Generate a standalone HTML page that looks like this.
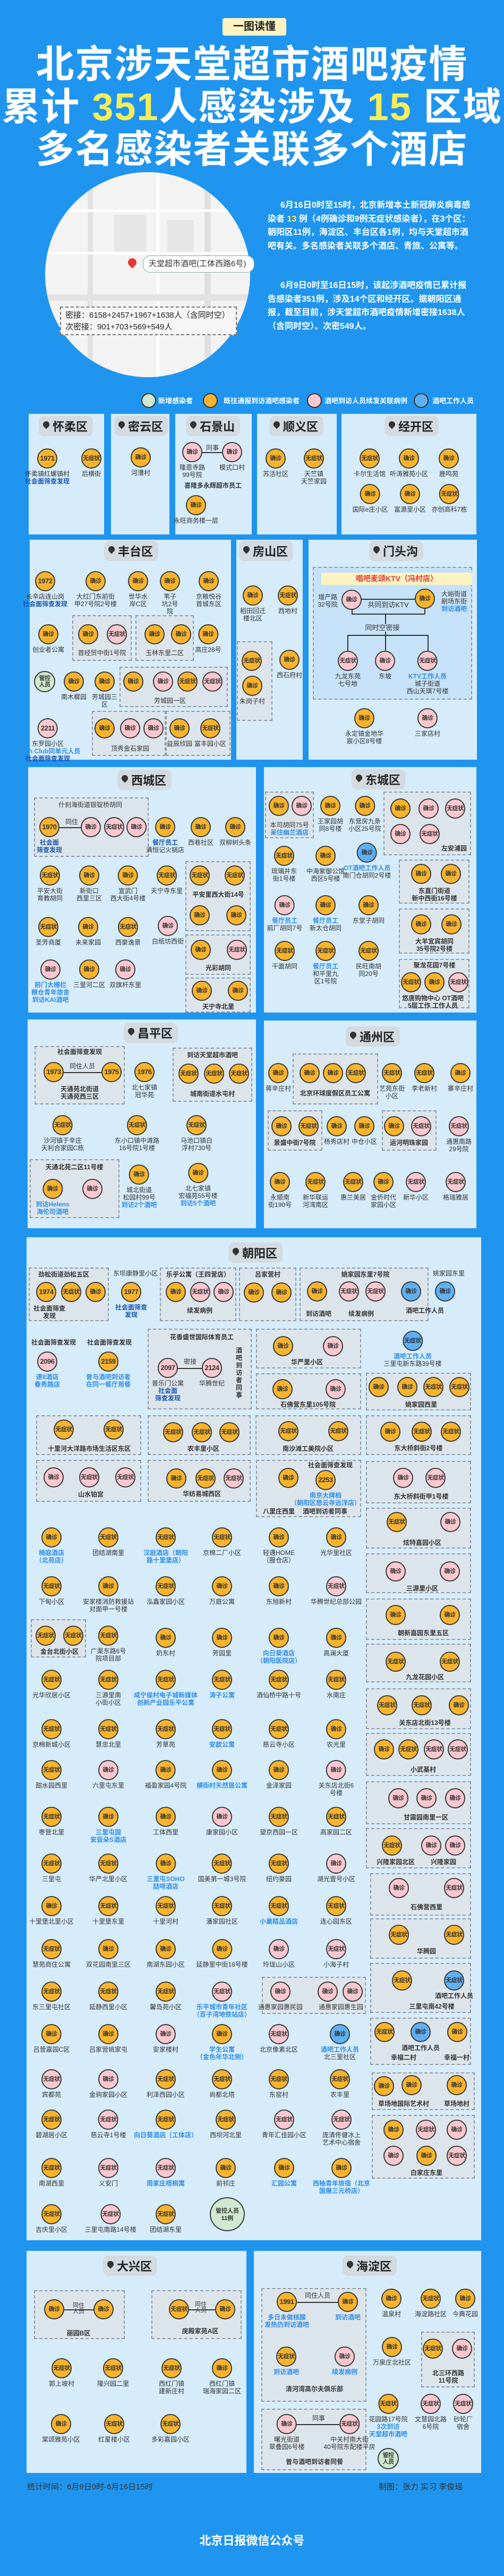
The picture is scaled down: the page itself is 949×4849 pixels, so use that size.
<!DOCTYPE html>
<html><head><meta charset="utf-8">
<style>
*{margin:0;padding:0;box-sizing:border-box}
body{width:949px;height:4849px;background:#1f95ef;position:relative;overflow:hidden;font-family:"Liberation Sans","Noto Sans CJK SC",sans-serif;color:#333}
.a{position:absolute}
.pn{position:absolute;background:#d6ecfb}
.bx{position:absolute;border:2px dashed #8e9aa6;background:#dde5ec}
.t{position:absolute;transform:translate(-50%,-50%);background:#d3dae0;border-radius:10px;padding:3px 10px 3px 26px;font-size:22px;font-weight:bold;white-space:nowrap;color:#222}
.t:before{content:"";position:absolute;left:8px;top:10px;width:12px;height:12px;border-radius:50% 50% 50% 0;transform:rotate(-45deg);background:#333;box-shadow:inset 0 0 0 3px #333}
.i{position:absolute;transform:translateX(-50%);display:flex;flex-direction:column;align-items:center;text-align:center;font-size:12px;line-height:14px;white-space:nowrap;color:#333}
.c{width:38px;height:38px;border-radius:50%;border:2px solid #3b3b3b;display:flex;align-items:center;justify-content:center;font-size:11px;font-weight:bold;margin-bottom:3px;color:#333;letter-spacing:-0.5px}
.o{background:#f8b42c}.p{background:#fcc8d0}.b{background:#5fb0f3}.g{background:#cfe8cf;width:40px;height:40px;line-height:12px;font-size:11px}
.n{font-size:13px}
.u{color:#2f8de6;font-weight:bold}
.d{color:#1a55b0;font-weight:bold}
.lb{position:absolute;transform:translateX(-50%);font-size:12px;white-space:nowrap;text-align:center;line-height:14px;color:#333}
.ln{position:absolute;background:#333;height:2px}
.tx{position:absolute;color:#fff;font-weight:bold;font-size:16px;line-height:25.5px}
</style></head><body>

<!-- header -->
<div class="a" style="left:419px;top:34px;width:120px;height:33px;background:#fdf3c2;border-radius:4px;font-size:20px;font-weight:bold;text-align:center;line-height:33px;color:#222">一图读懂</div>
<div class="a" style="left:0;width:949px;top:82px;text-align:center;color:#fff;font-weight:bold;font-size:72px;line-height:80px;letter-spacing:2px">北京涉天堂超市酒吧疫情<br>累计 <span style="color:#f7ee5a">351</span>人感染涉及 <span style="color:#f7ee5a">15</span> 区域<br>多名感染者关联多个酒店</div>

<div class="a" style="left:85px;top:324px;width:386px;height:386px;border-radius:50%;background:#f3f3f3;overflow:hidden">
 <div class="a" style="left:80px;top:0;width:10px;height:400px;background:#e2e2e2"></div>
 <div class="a" style="left:210px;top:0;width:5px;height:400px;background:#fff"></div>
 <div class="a" style="left:300px;top:0;width:12px;height:400px;background:#e0e0e0"></div>
 <div class="a" style="left:0;top:150px;width:400px;height:5px;background:#fff"></div>
 <div class="a" style="left:0;top:230px;width:400px;height:12px;background:#e2e2e2"></div>
 <div class="a" style="left:0;top:70px;width:400px;height:5px;background:#fff"></div>
 <div class="a" style="left:130px;top:80px;width:60px;height:70px;background:#e6e6e6"></div>
 <div class="a" style="left:230px;top:90px;width:50px;height:60px;background:#e6e6e6"></div>
</div>
<div class="a" style="left:269px;top:481px;width:210px;height:32px;border:1.5px solid #8aa;border-radius:14px;background:#fff;font-size:15px;line-height:29px;padding-left:10px;color:#333">天堂超市酒吧(工体西路6号)</div>
<div class="a" style="left:241px;top:486px;width:16px;height:16px;border-radius:50% 50% 50% 0;transform:rotate(-45deg);background:#e53935"></div>
<div class="a" style="left:113px;top:577px;width:333px;height:54px;border:2px dashed #777;background:#f6f6f6;font-size:15px;line-height:22px;padding:4px 8px;color:#222">密接：6158+2457+1967+1638人（含同时空）<br>次密接：901+703+569+549人</div>

<div class="tx" style="left:504px;top:374px;width:390px">&emsp;&ensp;6月16日0时至15时，北京新增本土新冠肺炎病毒感染者 <span style="color:#f7ee5a">13</span> 例（4例确诊和9例无症状感染者），在3个区：朝阳区11例，海淀区、丰台区各1例，均与天堂超市酒吧有关。多名感染者关联多个酒店、青旅、公寓等。</div>
<div class="tx" style="left:504px;top:525px;width:390px">&emsp;&ensp;6月9日0时至16日15时，该起涉酒吧疫情已累计报告感染者351例，涉及14个区和经开区。据朝阳区通报，截至目前，涉天堂超市酒吧疫情新增密接1638人（含同时空）、次密549人。</div>

<!-- legend -->
<div class="a" style="left:266px;top:740px;width:28px;height:28px;border-radius:50%;border:2px solid #333;background:#cfe8cf"></div>
<div class="a" style="left:298px;top:744px;color:#fff;font-size:13px;font-weight:bold">新增感染者</div>
<div class="a" style="left:382px;top:740px;width:28px;height:28px;border-radius:50%;border:2px solid #333;background:#f8b42c"></div>
<div class="a" style="left:421px;top:744px;color:#fff;font-size:13px;font-weight:bold">既往通报到访酒吧感染者</div>
<div class="a" style="left:578px;top:740px;width:28px;height:28px;border-radius:50%;border:2px solid #333;background:#fcc8d0"></div>
<div class="a" style="left:611px;top:744px;color:#fff;font-size:13px;font-weight:bold">酒吧到访人员续发关联病例</div>
<div class="a" style="left:779px;top:740px;width:28px;height:28px;border-radius:50%;border:2px solid #333;background:#5fb0f3"></div>
<div class="a" style="left:814px;top:744px;color:#fff;font-size:13px;font-weight:bold">酒吧工作人员</div>

<!-- row1 panels -->
<div class="pn" style="left:54px;top:779px;width:142px;height:227px"></div>
<div class="pn" style="left:209px;top:779px;width:110px;height:227px"></div>
<div class="pn" style="left:330px;top:779px;width:144px;height:227px"></div>
<div class="pn" style="left:484px;top:779px;width:150px;height:227px"></div>
<div class="pn" style="left:643px;top:779px;width:254px;height:227px"></div>
<div class="t" style="left:124px;top:802px">怀柔区</div>
<div class="t" style="left:266px;top:802px">密云区</div>
<div class="t" style="left:401px;top:802px">石景山</div>
<div class="t" style="left:558px;top:802px">顺义区</div>
<div class="t" style="left:775px;top:802px">经开区</div>

<div class="i" style="left:89px;top:844px"><b class="c o n">1971</b>怀柔镇红螺镇村<span class="d">社会面筛查发现</span></div>
<div class="i" style="left:172px;top:844px"><b class="c o">无症状</b>后横街</div>
<div class="i" style="left:265px;top:842px"><b class="c o">确诊</b>河漕村</div>
<div class="ln" style="left:380px;top:851px;width:40px"></div><div class="lb" style="left:400px;top:836px">同事</div>
<div class="i" style="left:362px;top:832px"><b class="c p">确诊</b>隆恩寺路<br>99号院</div>
<div class="i" style="left:437px;top:832px"><b class="c p">确诊</b>模式口村</div>
<div class="lb u" style="left:401px;top:907px">喜隆多永辉超市员工</div>
<div class="i" style="left:369px;top:932px"><b class="c o">确诊</b>永旺商务楼一层</div>
<div class="i" style="left:519px;top:844px"><b class="c o">确诊</b>苏活社区</div>
<div class="i" style="left:591px;top:844px"><b class="c o">无症状</b>天竺镇<br>天竺家园</div>
<div class="i" style="left:696px;top:844px"><b class="c o">无症状</b>卡尔生活馆</div>
<div class="i" style="left:770px;top:844px"><b class="c o">确诊</b>听涛雅苑小区</div>
<div class="i" style="left:845px;top:844px"><b class="c o">确诊</b>鹿鸣苑</div>
<div class="i" style="left:697px;top:911px"><b class="c o">确诊</b>国际e庄小区</div>
<div class="i" style="left:772px;top:911px"><b class="c o">确诊</b>富源里小区</div>
<div class="i" style="left:846px;top:911px"><b class="c o">无症状</b>亦创高科7栋</div>

<!-- row2 panels -->
<div class="pn" style="left:56px;top:1016px;width:379px;height:414px"></div>
<div class="pn" style="left:445px;top:1016px;width:125px;height:414px"></div>
<div class="pn" style="left:581px;top:1016px;width:317px;height:414px"></div>
<div class="t" style="left:247px;top:1037px">丰台区</div>
<div class="t" style="left:501px;top:1037px">房山区</div>
<div class="t" style="left:746px;top:1037px">门头沟</div>

<div class="i" style="left:85px;top:1075px"><b class="c o n">1972</b>长辛店连山岗<span class="d">社会面筛查发现</span></div>
<div class="i" style="left:180px;top:1075px"><b class="c o">确诊</b>大红门东前街<br>甲27号院2号楼</div>
<div class="i" style="left:260px;top:1075px"><b class="c o">确诊</b>世华水<br>岸C区</div>
<div class="i" style="left:320px;top:1075px"><b class="c o">确诊</b>苇子<br>坑2号<br>院</div>
<div class="i" style="left:393px;top:1075px"><b class="c o">确诊</b>京粮悦谷<br>首城东区</div>
<div class="bx" style="left:136px;top:1158px;width:112px;height:86px"></div>
<div class="bx" style="left:255px;top:1158px;width:110px;height:86px"></div>
<div class="i" style="left:91px;top:1175px"><b class="c o">确诊</b>创业者公寓</div>
<div class="i" style="left:166px;top:1175px"><b class="c o">确诊</b></div>
<div class="i" style="left:220px;top:1175px"><b class="c p">无症状</b></div>
<div class="lb" style="left:192px;top:1222px">首经贸中街1号院</div>
<div class="i" style="left:291px;top:1175px"><b class="c o">确诊</b></div>
<div class="i" style="left:341px;top:1175px"><b class="c o">确诊</b></div>
<div class="lb" style="left:310px;top:1222px">玉林东里二区</div>
<div class="i" style="left:392px;top:1175px"><b class="c o">确诊</b>高庄28号</div>
<div class="bx" style="left:225px;top:1255px;width:204px;height:76px"></div>
<div class="i" style="left:84px;top:1263px"><b class="c g">管控<br>人员</b></div>
<div class="i" style="left:139px;top:1264px"><b class="c o">确诊</b>南木樨园</div>
<div class="i" style="left:197px;top:1264px"><b class="c o">确诊</b>芳城园三<br>区</div>
<div class="i" style="left:251px;top:1264px"><b class="c o">确诊</b></div>
<div class="i" style="left:307px;top:1264px"><b class="c p">确诊</b></div>
<div class="i" style="left:353px;top:1264px"><b class="c o">无症状</b></div>
<div class="i" style="left:400px;top:1264px"><b class="c p">无症状</b></div>
<div class="lb" style="left:320px;top:1312px">芳城园一区</div>
<div class="bx" style="left:173px;top:1338px;width:139px;height:85px"></div>
<div class="bx" style="left:312px;top:1338px;width:122px;height:85px"></div>
<div class="i" style="left:90px;top:1352px"><b class="c p n">2211</b>东罗园小区<span class="u">Fresh Club同单元人员</span><span class="d">社会面筛查发现</span></div>
<div class="i" style="left:197px;top:1352px"><b class="c o">确诊</b></div>
<div class="i" style="left:245px;top:1352px"><b class="c p">确诊</b></div>
<div class="i" style="left:289px;top:1352px"><b class="c p">确诊</b></div>
<div class="lb" style="left:245px;top:1402px">顶秀金石家园</div>
<div class="i" style="left:338px;top:1352px"><b class="c o">确诊</b>益辰欣园</div>
<div class="i" style="left:396px;top:1352px"><b class="c o">无症状</b>富丰园小区</div>

<div class="i" style="left:476px;top:1102px"><b class="c o">确诊</b>稻田回迁<br>楼北区</div>
<div class="i" style="left:542px;top:1102px"><b class="c o">无症状</b>西地村</div>
<div class="bx" style="left:446px;top:1207px;width:67px;height:150px"></div>
<div class="i" style="left:474px;top:1225px"><b class="c o">无症状</b></div>
<div class="i" style="left:475px;top:1272px"><b class="c o">确诊</b>朱岗子村</div>
<div class="i" style="left:545px;top:1223px"><b class="c o">确诊</b>西石府村</div>

<div class="bx" style="left:589px;top:1067px;width:300px;height:250px;background:#c6e2f8"></div>
<div class="a" style="left:605px;top:1078px;width:284px;height:23px;background:#fdf3c2;color:#e53935;font-weight:bold;font-size:14px;text-align:center;line-height:23px">唱吧麦颂KTV（冯村店）</div>
<div class="ln" style="left:662px;top:1127px;width:138px"></div>
<div class="ln" style="left:662px;top:1155px;width:138px"></div>
<div class="a" style="left:662px;top:1130px;width:2px;height:26px;background:#333"></div>
<div class="a" style="left:799px;top:1130px;width:2px;height:26px;background:#333"></div>
<div class="a" style="left:725px;top:1155px;width:2px;height:70px;background:#333"></div>
<div class="ln" style="left:655px;top:1195px;width:151px"></div>
<div class="a" style="left:654px;top:1195px;width:2px;height:30px;background:#333"></div>
<div class="a" style="left:805px;top:1195px;width:2px;height:30px;background:#333"></div>
<div class="lb" style="left:731px;top:1132px;font-size:13px">共同到访KTV</div>
<div class="lb" style="left:720px;top:1175px;font-size:13px;background:#c6e2f8">同时空密接</div>
<div class="lb" style="left:617px;top:1117px">增产路<br>32号院</div>
<div class="i" style="left:662px;top:1110px"><b class="c p">确诊</b></div>
<div class="i" style="left:800px;top:1108px"><b class="c o">确诊</b></div>
<div class="lb" style="left:855px;top:1111px">大峪街道<br>剧场东街<br><span class="u">到访酒吧</span></div>
<div class="i" style="left:655px;top:1225px"><b class="c p">无症状</b>九龙东苑<br>七号地</div>
<div class="i" style="left:725px;top:1225px"><b class="c p">确诊</b>东坡</div>
<div class="i" style="left:805px;top:1225px"><b class="c p">无症状</b><span class="u">KTV工作人员</span>城子街道<br>西山天琪7号楼</div>
<div class="i" style="left:686px;top:1333px"><b class="c o">确诊</b>永定镇金地华<br>宸小区8号楼</div>
<div class="i" style="left:805px;top:1333px"><b class="c p">确诊</b>三家店村</div>

<!-- 西城 / 东城 -->
<div class="pn" style="left:53px;top:1444px;width:429px;height:462px"></div>
<div class="pn" style="left:497px;top:1444px;width:400px;height:462px"></div>
<div class="t" style="left:272px;top:1468px">西城区</div>
<div class="t" style="left:713px;top:1467px">东城区</div>

<div class="bx" style="left:64px;top:1501px;width:216px;height:112px"></div>
<div class="lb" style="left:170px;top:1508px;font-size:12px">什刹海街道银锭桥胡同</div>
<div class="ln" style="left:110px;top:1557px;width:60px"></div><div class="lb" style="left:135px;top:1540px">同住</div>
<div class="i" style="left:93px;top:1538px"><b class="c o n">1970</b><span class="d">社会面<br>筛查发现</span></div>
<div class="i" style="left:171px;top:1538px"><b class="c p">确诊</b></div>
<div class="i" style="left:215px;top:1538px"><b class="c p">无症状</b></div>
<div class="i" style="left:257px;top:1538px"><b class="c p">确诊</b></div>
<div class="i" style="left:311px;top:1538px"><b class="c o">确诊</b><span class="d">餐厅员工</span>满恒记火锅店</div>
<div class="i" style="left:378px;top:1538px"><b class="c o">确诊</b>西巷社区</div>
<div class="i" style="left:443px;top:1538px"><b class="c o">确诊</b>双柳树头条</div>
<div class="bx" style="left:349px;top:1621px;width:123px;height:132px"></div>
<div class="bx" style="left:349px;top:1759px;width:123px;height:76px"></div>
<div class="bx" style="left:349px;top:1840px;width:123px;height:66px"></div>
<div class="i" style="left:94px;top:1629px"><b class="c o">无症状</b>平安大街<br>育教胡同</div>
<div class="i" style="left:168px;top:1629px"><b class="c o">确诊</b>新街口<br>西里三区</div>
<div class="i" style="left:241px;top:1629px"><b class="c o">确诊</b>宣武门<br>西大街4号楼</div>
<div class="i" style="left:314px;top:1629px"><b class="c o">无症状</b>天宁寺东里</div>
<div class="i" style="left:376px;top:1629px"><b class="c o">无症状</b></div>
<div class="i" style="left:442px;top:1629px"><b class="c o">无症状</b></div>
<div class="lb" style="left:411px;top:1677px;font-weight:bold">平安里西大街14号</div>
<div class="i" style="left:376px;top:1704px"><b class="c o">确诊</b></div>
<div class="i" style="left:445px;top:1704px"><b class="c o">确诊</b></div>
<div class="i" style="left:91px;top:1726px"><b class="c o">无症状</b>圣芳商厦</div>
<div class="i" style="left:166px;top:1726px"><b class="c o">确诊</b>未来家园</div>
<div class="i" style="left:241px;top:1726px"><b class="c o">无症状</b>西豪逸景</div>
<div class="i" style="left:316px;top:1724px"><b class="c p">确诊</b>白纸坊西街</div>
<div class="i" style="left:378px;top:1769px"><b class="c o">确诊</b></div>
<div class="i" style="left:446px;top:1769px"><b class="c p">无症状</b></div>
<div class="lb" style="left:411px;top:1815px;font-weight:bold">光彩胡同</div>
<div class="i" style="left:95px;top:1806px"><b class="c p">确诊</b><span class="u">前门大栅栏<br>粮仓青年旅舍<br>到访KAI酒吧</span></div>
<div class="i" style="left:168px;top:1806px"><b class="c o">确诊</b>三里河二区</div>
<div class="i" style="left:236px;top:1806px"><b class="c p">确诊</b>双旗杆东里</div>
<div class="i" style="left:380px;top:1846px"><b class="c o">确诊</b></div>
<div class="i" style="left:448px;top:1846px"><b class="c o">确诊</b></div>
<div class="lb" style="left:411px;top:1888px;font-weight:bold">天宁寺北里</div>

<div class="bx" style="left:499px;top:1490px;width:92px;height:88px"></div>
<div class="i" style="left:525px;top:1498px"><b class="c o">确诊</b></div>
<div class="i" style="left:568px;top:1498px"><b class="c p">确诊</b></div>
<div class="lb" style="left:545px;top:1546px">本司胡同75号<br><span class="u">呆住幽兰酒店</span></div>
<div class="i" style="left:622px;top:1498px"><b class="c o">确诊</b>王家园胡<br>同8号楼</div>
<div class="i" style="left:687px;top:1498px"><b class="c o">确诊</b>东营房九条<br>小区25号院</div>
<div class="bx" style="left:722px;top:1490px;width:165px;height:120px"></div>
<div class="i" style="left:754px;top:1503px"><b class="c o">确诊</b></div>
<div class="i" style="left:807px;top:1503px"><b class="c p">确诊</b></div>
<div class="i" style="left:857px;top:1503px"><b class="c p">无症状</b></div>
<div class="i" style="left:754px;top:1551px"><b class="c p">确诊</b></div>
<div class="i" style="left:809px;top:1551px"><b class="c p">无症状</b></div>
<div class="lb" style="left:855px;top:1590px;font-weight:bold">左安浦园</div>
<div class="i" style="left:535px;top:1592px"><b class="c o">无症状</b>琉璃井东<br>街1号楼</div>
<div class="i" style="left:613px;top:1592px"><b class="c o">确诊</b>中海紫御公馆<br>西区5号楼</div>
<div class="i" style="left:691px;top:1586px"><b class="c b">确诊</b><span class="u">OT酒吧工作人员</span>南门仓胡同2号楼</div>
<div class="bx" style="left:751px;top:1618px;width:133px;height:83px"></div>
<div class="i" style="left:793px;top:1626px"><b class="c o">确诊</b></div>
<div class="i" style="left:849px;top:1626px"><b class="c o">确诊</b></div>
<div class="lb" style="left:818px;top:1670px;font-weight:bold">东直门街道<br>新中西街16号楼</div>
<div class="i" style="left:536px;top:1685px"><b class="c p">确诊</b><span class="u">餐厅员工</span>前厂胡同7号</div>
<div class="i" style="left:613px;top:1685px"><b class="c o">确诊</b><span class="u">餐厅员工</span>新太仓胡同</div>
<div class="i" style="left:694px;top:1685px"><b class="c o">确诊</b>东堂子胡同</div>
<div class="bx" style="left:751px;top:1710px;width:133px;height:85px"></div>
<div class="i" style="left:793px;top:1721px"><b class="c o">确诊</b></div>
<div class="i" style="left:850px;top:1721px"><b class="c o">确诊</b></div>
<div class="lb" style="left:818px;top:1765px;font-weight:bold">大羊宜宾胡同<br>35号院2号楼</div>
<div class="i" style="left:536px;top:1771px"><b class="c o">无症状</b>干面胡同</div>
<div class="i" style="left:613px;top:1771px"><b class="c o">无症状</b><span class="u">餐厅员工</span>和平里九<br>区1号院</div>
<div class="i" style="left:694px;top:1771px"><b class="c o">无症状</b>民旺南胡<br>同20号</div>
<div class="bx" style="left:751px;top:1805px;width:133px;height:93px"></div>
<div class="lb" style="left:818px;top:1810px;font-weight:bold">聚龙花园7号楼</div>
<div class="i" style="left:774px;top:1830px"><b class="c o">无症状</b></div>
<div class="i" style="left:818px;top:1830px"><b class="c o">确诊</b></div>
<div class="i" style="left:863px;top:1830px"><b class="c p">无症状</b></div>
<div class="lb u" style="left:815px;top:1872px">悠唐购物中心 OT酒吧<br>5层工作 工作人员</div>

<!-- 昌平 / 通州 -->
<div class="pn" style="left:52px;top:1919px;width:430px;height:393px"></div>
<div class="pn" style="left:497px;top:1921px;width:400px;height:391px"></div>
<div class="t" style="left:284px;top:1944px">昌平区</div>
<div class="t" style="left:702px;top:1951px">通州区</div>
<div class="bx" style="left:65px;top:1969px;width:170px;height:110px"></div>
<div class="lb d" style="left:150px;top:1973px">社会面筛查发现</div>
<div class="ln" style="left:115px;top:2018px;width:80px"></div><div class="lb" style="left:155px;top:2000px">同住人员</div>
<div class="i" style="left:101px;top:1999px"><b class="c o n">1973</b></div>
<div class="i" style="left:210px;top:1999px"><b class="c o n">1975</b></div>
<div class="lb" style="left:150px;top:2043px;font-weight:bold">天通苑北街道<br>天通苑西三区</div>
<div class="i" style="left:272px;top:1999px"><b class="c o n">1976</b>北七家镇<br>冠华苑</div>
<div class="bx" style="left:325px;top:1972px;width:150px;height:102px"></div>
<div class="lb u" style="left:400px;top:1979px">到访天堂超市酒吧</div>
<div class="i" style="left:355px;top:2002px"><b class="c o">无症状</b></div>
<div class="i" style="left:403px;top:2002px"><b class="c o">无症状</b></div>
<div class="i" style="left:450px;top:2002px"><b class="c o">无症状</b></div>
<div class="lb" style="left:400px;top:2052px;font-weight:bold">城南街道水屯村</div>
<div class="i" style="left:118px;top:2099px"><b class="c o">无症状</b>沙河镇于辛庄<br>天利合家园C栋</div>
<div class="i" style="left:258px;top:2099px"><b class="c o">无症状</b>东小口镇中滩路<br>16号院1号楼</div>
<div class="i" style="left:370px;top:2099px"><b class="c o">无症状</b>马池口镇白<br>浮村730号</div>
<div class="bx" style="left:56px;top:2182px;width:169px;height:111px"></div>
<div class="lb" style="left:140px;top:2190px;font-weight:bold">天通北苑二区11号楼</div>
<div class="i" style="left:99px;top:2219px"><b class="c o">确诊</b><span class="u">到访Helens<br>海伦司酒吧</span></div>
<div class="i" style="left:174px;top:2219px"><b class="c p">确诊</b></div>
<div class="i" style="left:262px;top:2192px"><b class="c o">确诊</b>城北街道<br>松园村99号<span class="u">到访2个酒吧</span></div>
<div class="i" style="left:373px;top:2189px"><b class="c o">确诊</b>北七家镇<br>宏福苑55号楼<span class="u">到访5个酒吧</span></div>

<div class="i" style="left:524px;top:2001px"><b class="c o">确诊</b>蒋辛庄村</div>
<div class="bx" style="left:551px;top:1983px;width:161px;height:96px"></div>
<div class="i" style="left:583px;top:2001px"><b class="c o">确诊</b></div>
<div class="i" style="left:627px;top:2001px"><b class="c o">确诊</b></div>
<div class="i" style="left:670px;top:2001px"><b class="c o">无症状</b></div>
<div class="lb" style="left:631px;top:2051px;font-weight:bold">北京环球度假区员工公寓</div>
<div class="i" style="left:738px;top:2001px"><b class="c o">无症状</b>艺苑东街<br>小区</div>
<div class="i" style="left:799px;top:2001px"><b class="c o">无症状</b>李老新村</div>
<div class="i" style="left:867px;top:2001px"><b class="c o">确诊</b>寨辛庄村</div>
<div class="bx" style="left:504px;top:2090px;width:103px;height:76px"></div>
<div class="bx" style="left:719px;top:2090px;width:103px;height:76px"></div>
<div class="i" style="left:530px;top:2101px"><b class="c o">确诊</b></div>
<div class="i" style="left:581px;top:2101px"><b class="c o">无症状</b></div>
<div class="lb" style="left:555px;top:2144px;font-weight:bold">景盛中街7号院</div>
<div class="i" style="left:634px;top:2101px"><b class="c o">确诊</b>杨秀店村</div>
<div class="i" style="left:686px;top:2101px"><b class="c o">确诊</b>中仓小区</div>
<div class="i" style="left:742px;top:2101px"><b class="c o">确诊</b></div>
<div class="i" style="left:793px;top:2101px"><b class="c p">无症状</b></div>
<div class="lb" style="left:770px;top:2144px;font-weight:bold">运河明珠家园</div>
<div class="i" style="left:864px;top:2101px"><b class="c p">无症状</b>通惠南路<br>29号院</div>
<div class="i" style="left:527px;top:2206px"><b class="c o">确诊</b>永顺南<br>街190号</div>
<div class="i" style="left:594px;top:2206px"><b class="c o">无症状</b>新华联运<br>河湾南区</div>
<div class="i" style="left:665px;top:2206px"><b class="c o">无症状</b>惠兰美居</div>
<div class="i" style="left:722px;top:2206px"><b class="c o">确诊</b>金侨时代<br>家园小区</div>
<div class="i" style="left:783px;top:2206px"><b class="c p">无症状</b>新华小区</div>
<div class="i" style="left:858px;top:2206px"><b class="c p">无症状</b>格瑞雅居</div>

<!-- 朝阳 -->
<div class="pn" style="left:50px;top:2329px;width:856px;height:1888px"></div>
<div class="t" style="left:481px;top:2358px">朝阳区</div>
<div class="bx" style="left:54px;top:2386px;width:151px;height:101px"></div>
<div class="lb" style="left:120px;top:2392px;font-weight:bold">劲松街道劲松五区</div>
<div class="i" style="left:87px;top:2413px"><b class="c o n">1974</b></div>
<div class="i" style="left:134px;top:2413px"><b class="c o">无症状</b></div>
<div class="i" style="left:180px;top:2413px"><b class="c o">确诊</b></div>
<div class="lb d" style="left:93px;top:2456px">社会面筛查<br>发现</div>
<div class="i" style="left:247px;top:2413px"><b class="c o n">1977</b><span class="d">社会面筛查<br>发现</span></div>
<div class="lb" style="left:255px;top:2390px">东坝康静里小区</div>
<div class="bx" style="left:301px;top:2386px;width:144px;height:101px"></div>
<div class="lb u" style="left:373px;top:2392px">乐乎公寓（王四营店）</div>
<div class="i" style="left:331px;top:2413px"><b class="c o">确诊</b></div>
<div class="i" style="left:377px;top:2413px"><b class="c p">无症状</b></div>
<div class="i" style="left:421px;top:2413px"><b class="c p">确诊</b></div>
<div class="lb u" style="left:376px;top:2460px">续发病例</div>
<div class="bx" style="left:450px;top:2386px;width:108px;height:101px"></div>
<div class="lb" style="left:504px;top:2392px;font-weight:bold">吕家营村</div>
<div class="i" style="left:478px;top:2414px"><b class="c o">确诊</b></div>
<div class="i" style="left:530px;top:2414px"><b class="c o">确诊</b></div>
<div class="bx" style="left:564px;top:2386px;width:243px;height:101px"></div>
<div class="lb" style="left:688px;top:2392px;font-weight:bold">姚家园东里7号院</div>
<div class="i" style="left:597px;top:2412px"><b class="c o">确诊</b></div>
<div class="i" style="left:657px;top:2412px"><b class="c p">无症状</b></div>
<div class="i" style="left:707px;top:2412px"><b class="c p">无症状</b></div>
<div class="i" style="left:774px;top:2412px"><b class="c b">确诊</b></div>
<div class="lb u" style="left:600px;top:2466px">到访酒吧</div>
<div class="lb u" style="left:680px;top:2466px">续发病例</div>
<div class="lb u" style="left:800px;top:2460px">酒吧工作人员</div>
<div class="lb" style="left:845px;top:2390px">姚家园东里</div>
<div class="i" style="left:838px;top:2412px"><b class="c b">确诊</b></div>

<div class="lb d" style="left:101px;top:2520px">社会面筛查发现</div>
<div class="lb d" style="left:206px;top:2520px">社会面筛查发现</div>
<div class="i" style="left:89px;top:2544px"><b class="c p n">2096</b><span class="u">速8酒店<br>春秀路店</span></div>
<div class="i" style="left:204px;top:2544px"><b class="c o n">2159</b><span class="u">曾与酒吧到访者<br>在同一餐厅用餐</span></div>
<div class="bx" style="left:278px;top:2501px;width:196px;height:152px"></div>
<div class="lb" style="left:380px;top:2510px;font-weight:bold">花香盛世国际体育员工</div>
<div class="ln" style="left:330px;top:2575px;width:68px"></div><div class="lb" style="left:358px;top:2556px">密接</div>
<div class="i" style="left:316px;top:2556px"><b class="c p n">2097</b>普乐门公寓<span class="d">社会面<br>筛查发现</span></div>
<div class="i" style="left:399px;top:2556px"><b class="c p n">2124</b>华腾世纪</div>
<div class="lb u" style="left:450px;top:2535px;white-space:normal;width:14px">酒吧到访者同事</div>
<div class="bx" style="left:482px;top:2501px;width:198px;height:75px"></div>
<div class="i" style="left:533px;top:2515px"><b class="c o">确诊</b></div>
<div class="i" style="left:627px;top:2515px"><b class="c p">确诊</b></div>
<div class="lb" style="left:578px;top:2557px;font-weight:bold">华严里小区</div>
<div class="bx" style="left:482px;top:2585px;width:198px;height:68px"></div>
<div class="i" style="left:532px;top:2596px"><b class="c o">确诊</b></div>
<div class="i" style="left:632px;top:2596px"><b class="c p">确诊</b></div>
<div class="lb" style="left:580px;top:2637px;font-weight:bold">石佛营东里105号院</div>
<div class="i" style="left:777px;top:2505px"><b class="c b">无症状</b><span class="u">酒吧工作人员</span>三里屯新东路39号楼</div>

<div class="bx" style="left:68px;top:2664px;width:198px;height:75px"></div>
<div class="i" style="left:120px;top:2672px"><b class="c o">无症状</b></div>
<div class="i" style="left:214px;top:2672px"><b class="c o">无症状</b></div>
<div class="lb" style="left:168px;top:2720px;font-weight:bold">十里河大洋路市场生活区东区</div>
<div class="bx" style="left:278px;top:2664px;width:194px;height:75px"></div>
<div class="i" style="left:326px;top:2677px"><b class="c o">无症状</b></div>
<div class="i" style="left:380px;top:2677px"><b class="c o">无症状</b></div>
<div class="i" style="left:432px;top:2677px"><b class="c o">无症状</b></div>
<div class="lb" style="left:383px;top:2720px;font-weight:bold">农丰里小区</div>
<div class="bx" style="left:481px;top:2664px;width:199px;height:75px"></div>
<div class="i" style="left:543px;top:2675px"><b class="c o">无症状</b></div>
<div class="i" style="left:637px;top:2675px"><b class="c o">无症状</b></div>
<div class="lb" style="left:580px;top:2720px;font-weight:bold">南沙滩工美院小区</div>
<div class="bx" style="left:68px;top:2748px;width:198px;height:79px"></div>
<div class="i" style="left:101px;top:2762px"><b class="c p">确诊</b></div>
<div class="i" style="left:168px;top:2762px"><b class="c p">无症状</b></div>
<div class="i" style="left:236px;top:2762px"><b class="c p">无症状</b></div>
<div class="lb" style="left:171px;top:2806px;font-weight:bold">山水铂宫</div>
<div class="bx" style="left:278px;top:2748px;width:194px;height:79px"></div>
<div class="i" style="left:332px;top:2764px"><b class="c o">确诊</b></div>
<div class="i" style="left:387px;top:2764px"><b class="c o">无症状</b></div>
<div class="i" style="left:440px;top:2764px"><b class="c p">无症状</b></div>
<div class="lb" style="left:380px;top:2805px;font-weight:bold">华纺易城西区</div>
<div class="bx" style="left:482px;top:2748px;width:198px;height:108px"></div>
<div class="lb d" style="left:622px;top:2751px">社会面筛查发现</div>
<div class="i" style="left:543px;top:2763px"><b class="c o">确诊</b></div>
<div class="i" style="left:613px;top:2767px"><b class="c o n">2253</b><span class="u">南京大牌档<br>（朝阳区慈云寺远洋店）</span></div>
<div class="lb" style="left:525px;top:2838px;font-weight:bold">八里庄西里</div>
<div class="lb u" style="left:612px;top:2838px">酒吧到访者同事</div>

<!-- right column chaoyang -->
<div class="bx" style="left:689px;top:2584px;width:198px;height:71px"></div>
<div class="i" style="left:713px;top:2592px"><b class="c o">确诊</b></div><div class="i" style="left:767px;top:2592px"><b class="c o">确诊</b></div><div class="i" style="left:816px;top:2592px"><b class="c o">无症状</b></div><div class="i" style="left:865px;top:2592px"><b class="c o">无症状</b></div>
<div class="lb" style="left:793px;top:2637px;font-weight:bold">姚家园西里</div>
<div class="bx" style="left:689px;top:2664px;width:198px;height:75px"></div>
<div class="i" style="left:735px;top:2676px"><b class="c o">确诊</b></div><div class="i" style="left:794px;top:2676px"><b class="c o">无症状</b></div><div class="i" style="left:849px;top:2676px"><b class="c o">无症状</b></div>
<div class="lb" style="left:788px;top:2719px;font-weight:bold">东大桥斜街2号楼</div>
<div class="bx" style="left:689px;top:2750px;width:198px;height:80px"></div>
<div class="i" style="left:759px;top:2763px"><b class="c p">确诊</b></div><div class="i" style="left:820px;top:2763px"><b class="c p">无症状</b></div>
<div class="lb" style="left:793px;top:2810px;font-weight:bold">东大桥斜街甲1号楼</div>
<div class="bx" style="left:689px;top:2838px;width:198px;height:77px"></div>
<div class="i" style="left:747px;top:2846px"><b class="c o">无症状</b></div><div class="i" style="left:848px;top:2846px"><b class="c p">确诊</b></div>
<div class="lb" style="left:795px;top:2897px;font-weight:bold">炫特嘉园小区</div>
<div class="bx" style="left:689px;top:2924px;width:198px;height:75px"></div>
<div class="i" style="left:745px;top:2939px"><b class="c p">确诊</b></div><div class="i" style="left:847px;top:2939px"><b class="c p">确诊</b></div>
<div class="lb" style="left:795px;top:2983px;font-weight:bold">三源里小区</div>
<div class="bx" style="left:689px;top:3009px;width:198px;height:78px"></div>
<div class="i" style="left:745px;top:3021px"><b class="c o">确诊</b></div><div class="i" style="left:847px;top:3021px"><b class="c o">确诊</b></div>
<div class="lb" style="left:797px;top:3067px;font-weight:bold">朝新嘉园东里五区</div>
<div class="bx" style="left:689px;top:3094px;width:198px;height:73px"></div>
<div class="i" style="left:745px;top:3109px"><b class="c o">无症状</b></div><div class="i" style="left:847px;top:3109px"><b class="c o">无症状</b></div>
<div class="lb" style="left:800px;top:3150px;font-weight:bold">九龙花园小区</div>
<div class="bx" style="left:689px;top:3178px;width:198px;height:77px"></div>
<div class="i" style="left:729px;top:3191px"><b class="c o">无症状</b></div><div class="i" style="left:794px;top:3191px"><b class="c o">无症状</b></div><div class="i" style="left:864px;top:3191px"><b class="c o">确诊</b></div>
<div class="lb" style="left:800px;top:3236px;font-weight:bold">关东店北街13号楼</div>
<div class="bx" style="left:689px;top:3262px;width:198px;height:81px"></div>
<div class="i" style="left:723px;top:3274px"><b class="c o">确诊</b></div><div class="i" style="left:769px;top:3274px"><b class="c o">无症状</b></div><div class="i" style="left:817px;top:3274px"><b class="c p">无症状</b></div><div class="i" style="left:862px;top:3274px"><b class="c p">无症状</b></div>
<div class="lb" style="left:797px;top:3324px;font-weight:bold">小武基村</div>
<div class="bx" style="left:689px;top:3353px;width:198px;height:81px"></div>
<div class="i" style="left:750px;top:3366px"><b class="c p">确诊</b></div><div class="i" style="left:803px;top:3366px"><b class="c p">确诊</b></div><div class="i" style="left:857px;top:3366px"><b class="c p">确诊</b></div>
<div class="lb" style="left:802px;top:3414px;font-weight:bold">甘露园南里一区</div>
<div class="bx" style="left:689px;top:3441px;width:198px;height:76px"></div>
<div class="i" style="left:738px;top:3455px"><b class="c o">无症状</b></div><div class="i" style="left:812px;top:3455px"><b class="c p">确诊</b></div><div class="i" style="left:857px;top:3455px"><b class="c p">确诊</b></div>
<div class="lb" style="left:745px;top:3498px;font-weight:bold">兴隆家园北区</div><div class="lb" style="left:835px;top:3498px;font-weight:bold">兴隆家园</div>
<div class="bx" style="left:697px;top:3526px;width:190px;height:80px"></div>
<div class="i" style="left:751px;top:3535px"><b class="c p">确诊</b></div><div class="i" style="left:855px;top:3535px"><b class="c p">无症状</b></div>
<div class="lb" style="left:803px;top:3583px;font-weight:bold">石佛营西里</div>
<div class="bx" style="left:697px;top:3611px;width:190px;height:76px"></div>
<div class="i" style="left:751px;top:3623px"><b class="c o">无症状</b></div><div class="i" style="left:855px;top:3623px"><b class="c o">无症状</b></div>
<div class="lb" style="left:803px;top:3666px;font-weight:bold">华腾园</div>
<div class="bx" style="left:697px;top:3695px;width:190px;height:94px"></div>
<div class="i" style="left:757px;top:3709px"><b class="c o">无症状</b></div><div class="i" style="left:855px;top:3709px"><b class="c b">无症状</b></div>
<div class="lb u" style="left:855px;top:3750px">酒吧工作人员</div>
<div class="lb" style="left:813px;top:3770px;font-weight:bold">三里屯南42号楼</div>
<div class="bx" style="left:697px;top:3798px;width:190px;height:89px"></div>
<div class="i" style="left:724px;top:3806px"><b class="c o">无症状</b></div><div class="i" style="left:792px;top:3806px"><b class="c b">确诊</b></div><div class="i" style="left:861px;top:3806px"><b class="c o">确诊</b></div>
<div class="lb u" style="left:792px;top:3848px">酒吧工作人员</div>
<div class="lb" style="left:760px;top:3866px;font-weight:bold">幸福二村</div><div class="lb" style="left:860px;top:3866px;font-weight:bold">幸福一村</div>
<div class="bx" style="left:700px;top:3901px;width:194px;height:71px"></div>
<div class="i" style="left:723px;top:3908px"><b class="c o">确诊</b></div><div class="i" style="left:775px;top:3906px"><b class="c o">确诊</b></div><div class="i" style="left:860px;top:3906px"><b class="c o">确诊</b></div>
<div class="lb" style="left:760px;top:3953px;font-weight:bold">草场地国际艺术村</div><div class="lb" style="left:860px;top:3953px;font-weight:bold">草场地村</div>
<div class="bx" style="left:700px;top:3981px;width:194px;height:120px"></div>
<div class="i" style="left:741px;top:3990px"><b class="c o">确诊</b></div><div class="i" style="left:802px;top:3990px"><b class="c p">无症状</b></div><div class="i" style="left:860px;top:3990px"><b class="c p">确诊</b></div>
<div class="i" style="left:741px;top:4039px"><b class="c p">确诊</b></div><div class="i" style="left:803px;top:4039px"><b class="c o">确诊</b></div><div class="i" style="left:860px;top:4039px"><b class="c p">无症状</b></div>
<div class="lb" style="left:803px;top:4083px;font-weight:bold">白家庄东里</div>

<!-- chaoyang grid -->
<div class="i" style="left:97px;top:2875px"><b class="c o">确诊</b><span class="u">楠庭酒店<br>（北苑店）</span></div>
<div class="i" style="left:204px;top:2875px"><b class="c o">无症状</b>团结湖南里</div>
<div class="i" style="left:312px;top:2875px"><b class="c o">无症状</b><span class="u">汉庭酒店（朝阳<br>路十里堡店）</span></div>
<div class="i" style="left:418px;top:2875px"><b class="c o">无症状</b>京棉二厂小区</div>
<div class="i" style="left:525px;top:2875px"><b class="c o">确诊</b>轻遇HOME<br>（服仓店）</div>
<div class="i" style="left:633px;top:2875px"><b class="c o">确诊</b>光华里社区</div>

<div class="i" style="left:97px;top:2967px"><b class="c o">无症状</b>下甸小区</div>
<div class="i" style="left:204px;top:2967px"><b class="c o">确诊</b>安家楼消防救援站<br>对面甲一号楼</div>
<div class="i" style="left:312px;top:2967px"><b class="c o">无症状</b>泓鑫家园小区</div>
<div class="i" style="left:418px;top:2967px"><b class="c o">确诊</b>万庭公寓</div>
<div class="i" style="left:525px;top:2967px"><b class="c o">确诊</b>东旭新村</div>
<div class="i" style="left:633px;top:2967px"><b class="c p">无症状</b>华腾世纪总部公园</div>

<div class="bx" style="left:58px;top:3048px;width:104px;height:72px"></div>
<div class="i" style="left:86px;top:3060px"><b class="c o">无症状</b></div>
<div class="i" style="left:138px;top:3060px"><b class="c o">无症状</b></div>
<div class="lb" style="left:112px;top:3102px;font-weight:bold">金台北街小区</div>
<div class="i" style="left:204px;top:3060px"><b class="c o">无症状</b>广渠东路6号<br>院项目部</div>
<div class="i" style="left:312px;top:3064px"><b class="c o">确诊</b>奶东村</div>
<div class="i" style="left:418px;top:3064px"><b class="c o">确诊</b>芳园里</div>
<div class="i" style="left:525px;top:3064px"><b class="c o">确诊</b><span class="u">向日葵酒店<br>（朝阳医院店）</span></div>
<div class="i" style="left:633px;top:3064px"><b class="c o">确诊</b>高澜大厦</div>

<div class="i" style="left:97px;top:3143px"><b class="c o">无症状</b>光华欣居小区</div>
<div class="i" style="left:204px;top:3143px"><b class="c o">无症状</b>三源里南<br>小街小区</div>
<div class="i" style="left:312px;top:3143px"><b class="c o">无症状</b><span class="u">咸宁侯村电子城新媒体<br>创新产业园乐平公寓</span></div>
<div class="i" style="left:418px;top:3143px"><b class="c o">无症状</b><span class="u">涛子公寓</span></div>
<div class="i" style="left:525px;top:3143px"><b class="c o">无症状</b>酒仙桥中路十号</div>
<div class="i" style="left:633px;top:3143px"><b class="c o">无症状</b>水南庄</div>

<div class="i" style="left:97px;top:3236px"><b class="c o">无症状</b>京棉新城小区</div>
<div class="i" style="left:204px;top:3236px"><b class="c o">无症状</b>慧忠北里</div>
<div class="i" style="left:312px;top:3236px"><b class="c o">无症状</b>芳草苑</div>
<div class="i" style="left:418px;top:3236px"><b class="c o">无症状</b><span class="u">安歆公寓</span></div>
<div class="i" style="left:525px;top:3236px"><b class="c o">无症状</b>慈云寺小区</div>
<div class="i" style="left:633px;top:3236px"><b class="c o">确诊</b>农光里</div>

<div class="i" style="left:97px;top:3313px"><b class="c o">无症状</b>甜水园西里</div>
<div class="i" style="left:204px;top:3313px"><b class="c p">确诊</b>六里屯东里</div>
<div class="i" style="left:312px;top:3313px"><b class="c o">确诊</b>福盈家园4号院</div>
<div class="i" style="left:418px;top:3313px"><b class="c o">确诊</b><span class="u">横街村天然居公寓</span></div>
<div class="i" style="left:525px;top:3313px"><b class="c o">确诊</b>金泽家园</div>
<div class="i" style="left:633px;top:3313px"><b class="c p">确诊</b>关东店北街6<br>号楼</div>

<div class="i" style="left:97px;top:3401px"><b class="c o">无症状</b>枣营北里</div>
<div class="i" style="left:204px;top:3401px"><b class="c o">确诊</b><span class="u">三里屯国<br>安亚朵S酒店</span></div>
<div class="i" style="left:312px;top:3401px"><b class="c o">确诊</b>工体西里</div>
<div class="i" style="left:418px;top:3401px"><b class="c p">确诊</b>康家园小区</div>
<div class="i" style="left:525px;top:3401px"><b class="c o">无症状</b>望京西园一区</div>
<div class="i" style="left:633px;top:3401px"><b class="c o">无症状</b>高家园二区</div>

<div class="i" style="left:97px;top:3489px"><b class="c o">无症状</b>三里屯</div>
<div class="i" style="left:204px;top:3489px"><b class="c o">无症状</b>华严北里小区</div>
<div class="i" style="left:312px;top:3489px"><b class="c o">确诊</b><span class="u">三里屯SOHO<br>喆啡酒店</span></div>
<div class="i" style="left:418px;top:3489px"><b class="c o">无症状</b>国美第一城3号院</div>
<div class="i" style="left:525px;top:3489px"><b class="c o">无症状</b>纽约豪园</div>
<div class="i" style="left:633px;top:3489px"><b class="c p">确诊</b>湖光壹号小区</div>

<div class="i" style="left:97px;top:3569px"><b class="c o">确诊</b>十里堡北里小区</div>
<div class="i" style="left:204px;top:3569px"><b class="c o">无症状</b>十里堡东里</div>
<div class="i" style="left:312px;top:3569px"><b class="c o">无症状</b>十里河村</div>
<div class="i" style="left:418px;top:3569px"><b class="c o">无症状</b>潘家园社区</div>
<div class="i" style="left:525px;top:3569px"><b class="c o">无症状</b><span class="u">小巢精品酒店</span></div>
<div class="i" style="left:633px;top:3569px"><b class="c o">无症状</b>连心园东区</div>

<div class="i" style="left:97px;top:3650px"><b class="c o">无症状</b>慧苑商住公寓</div>
<div class="i" style="left:204px;top:3650px"><b class="c o">确诊</b>双花园南里三区</div>
<div class="i" style="left:312px;top:3650px"><b class="c o">确诊</b>南湖东园小区</div>
<div class="i" style="left:418px;top:3650px"><b class="c o">确诊</b>延静里中街18号楼</div>
<div class="i" style="left:525px;top:3650px"><b class="c p">确诊</b>玲珑山小区</div>
<div class="i" style="left:633px;top:3650px"><b class="c p">无症状</b>小海子村</div>

<div class="i" style="left:97px;top:3730px"><b class="c o">无症状</b>东三里屯社区</div>
<div class="i" style="left:204px;top:3730px"><b class="c o">无症状</b>延静西里小区</div>
<div class="i" style="left:312px;top:3730px"><b class="c o">无症状</b>馨岛苑小区</div>
<div class="i" style="left:418px;top:3730px"><b class="c p">无症状</b><span class="u">乐平城市青年社区<br>（百子湾地铁站店）</span></div>
<div class="bx" style="left:493px;top:3721px;width:196px;height:70px"></div>
<div class="i" style="left:528px;top:3730px"><b class="c p">确诊</b>通惠家园惠民园</div>
<div class="i" style="left:617px;top:3730px"><b class="c p">确诊</b></div>
<div class="i" style="left:664px;top:3730px"><b class="c p">确诊</b></div>
<div class="lb" style="left:642px;top:3771px">通惠家园惠生园</div>

<div class="i" style="left:97px;top:3810px"><b class="c o">确诊</b>吕营嘉园C区</div>
<div class="i" style="left:204px;top:3810px"><b class="c o">确诊</b>吕家营姚家屯</div>
<div class="i" style="left:312px;top:3810px"><b class="c p">确诊</b>安家楼村</div>
<div class="i" style="left:418px;top:3810px"><b class="c o">确诊</b><span class="u">学生公寓<br>（金色年华北侧）</span></div>
<div class="i" style="left:525px;top:3810px"><b class="c p">无症状</b>北京像素北区</div>
<div class="i" style="left:640px;top:3810px"><b class="c b">确诊</b><span class="u">酒吧工作人员</span>北三里社区</div>

<div class="i" style="left:97px;top:3895px"><b class="c p">无症状</b>宾都苑</div>
<div class="i" style="left:204px;top:3895px"><b class="c p">确诊</b>金驹家园小区</div>
<div class="i" style="left:312px;top:3895px"><b class="c o">无症状</b>利泽西园小区</div>
<div class="i" style="left:418px;top:3895px"><b class="c o">无症状</b>尚都北塔</div>
<div class="i" style="left:525px;top:3895px"><b class="c o">无症状</b>东窑村</div>
<div class="i" style="left:640px;top:3895px"><b class="c o">无症状</b>农丰里</div>

<div class="i" style="left:97px;top:3971px"><b class="c o">无症状</b>碧湖居小区</div>
<div class="i" style="left:204px;top:3971px"><b class="c p">无症状</b>慈云寺1号楼</div>
<div class="i" style="left:312px;top:3971px"><b class="c o">无症状</b><span class="u">向日葵酒店（工体店）</span></div>
<div class="i" style="left:425px;top:3971px"><b class="c o">无症状</b>西坝河北里</div>
<div class="i" style="left:535px;top:3971px"><b class="c p">无症状</b>青年汇佳园小区</div>
<div class="i" style="left:643px;top:3971px"><b class="c p">无症状</b>庞清佟健冰上<br>艺术中心宿舍</div>

<div class="i" style="left:97px;top:4062px"><b class="c o">无症状</b>南湖西里</div>
<div class="i" style="left:204px;top:4062px"><b class="c p">无症状</b>义安门</div>
<div class="i" style="left:312px;top:4062px"><b class="c p">无症状</b><span class="u">周家庄梧桐寓</span></div>
<div class="i" style="left:425px;top:4062px"><b class="c o">确诊</b>前祁庄</div>
<div class="i" style="left:535px;top:4062px"><b class="c o">确诊</b><span class="u">汇园公寓</span></div>
<div class="i" style="left:643px;top:4062px"><b class="c o">确诊</b><span class="u">西柚青年旅宿（北京<br>国展三元桥店）</span></div>

<div class="i" style="left:97px;top:4149px"><b class="c o">无症状</b>吉庆里小区</div>
<div class="i" style="left:208px;top:4149px"><b class="c p">无症状</b>三里屯南路14号楼</div>
<div class="i" style="left:312px;top:4149px"><b class="c o">无症状</b>团结湖东里</div>
<div class="a" style="left:395px;top:4136px;width:66px;height:64px;border-radius:50%;border:2px solid #3b3b3b;background:#cfe8cf;font-size:11px;font-weight:bold;text-align:center;padding-top:17px;line-height:14px">管控人员<br>11例</div>

<!-- 大兴 / 海淀 -->
<div class="pn" style="left:50px;top:4237px;width:414px;height:418px"></div>
<div class="pn" style="left:478px;top:4237px;width:428px;height:418px"></div>
<div class="t" style="left:245px;top:4265px">大兴区</div>
<div class="t" style="left:696px;top:4265px">海淀区</div>
<div class="bx" style="left:64px;top:4311px;width:171px;height:92px"></div>
<div class="ln" style="left:120px;top:4347px;width:60px"></div><div class="lb" style="left:148px;top:4335px;font-size:11px;line-height:11px">同住<br>人员</div>
<div class="i" style="left:102px;top:4328px"><b class="c o">确诊</b></div>
<div class="i" style="left:195px;top:4328px"><b class="c o">确诊</b></div>
<div class="lb" style="left:148px;top:4385px;font-weight:bold">丽园B区</div>
<div class="bx" style="left:285px;top:4311px;width:170px;height:92px"></div>
<div class="ln" style="left:355px;top:4347px;width:55px"></div><div class="lb" style="left:378px;top:4333px;font-size:11px;line-height:11px">同住<br>人员</div>
<div class="i" style="left:337px;top:4328px"><b class="c o">无症状</b></div>
<div class="i" style="left:424px;top:4328px"><b class="c o">确诊</b></div>
<div class="lb" style="left:377px;top:4381px;font-weight:bold">庑殿家苑A区</div>
<div class="i" style="left:116px;top:4439px"><b class="c o">无症状</b>郭上坡村</div>
<div class="i" style="left:213px;top:4439px"><b class="c o">无症状</b>隆兴园二里</div>
<div class="i" style="left:323px;top:4439px"><b class="c o">无症状</b>西红门镇<br>建新庄村</div>
<div class="i" style="left:418px;top:4439px"><b class="c o">确诊</b>西红门镇<br>瑞海家园二区</div>
<div class="i" style="left:115px;top:4544px"><b class="c o">确诊</b>棠颂雅苑小区</div>
<div class="i" style="left:215px;top:4544px"><b class="c o">无症状</b>红星楼小区</div>
<div class="i" style="left:321px;top:4544px"><b class="c o">无症状</b>多彩嘉园小区</div>

<div class="bx" style="left:492px;top:4307px;width:198px;height:214px"></div>
<div class="ln" style="left:555px;top:4333px;width:85px"></div><div class="lb" style="left:598px;top:4314px">同住人员</div>
<div class="i" style="left:540px;top:4314px"><b class="c o n">1991</b><span class="u">多日未做核酸<br>发热仍到访酒吧</span></div>
<div class="i" style="left:655px;top:4314px"><b class="c o">确诊</b><span class="u">到访酒吧</span></div>
<div class="i" style="left:539px;top:4417px"><b class="c o">无症状</b><span class="u">到访酒吧</span></div>
<div class="i" style="left:649px;top:4417px"><b class="c p">确诊</b><span class="u">续发病例</span></div>
<div class="lb" style="left:592px;top:4490px;font-weight:bold">清河湾高尔夫俱乐部</div>
<div class="bx" style="left:492px;top:4534px;width:198px;height:116px"></div>
<div class="ln" style="left:555px;top:4563px;width:90px"></div><div class="lb" style="left:600px;top:4545px">同事</div>
<div class="i" style="left:540px;top:4544px"><b class="c p">确诊</b>曙光街道<br>翠叠园6号楼</div>
<div class="i" style="left:658px;top:4544px"><b class="c p">无症状</b>中关村南大街<br>40号院东配楼平房</div>
<div class="lb u" style="left:592px;top:4627px">曾与酒吧到访者同餐</div>
<div class="i" style="left:737px;top:4308px"><b class="c o">确诊</b>温泉村</div>
<div class="i" style="left:811px;top:4308px"><b class="c o">无症状</b>海淀路社区</div>
<div class="i" style="left:876px;top:4308px"><b class="c o">确诊</b>今典花园</div>
<div class="i" style="left:738px;top:4399px"><b class="c o">确诊</b>万泉庄北社区</div>
<div class="bx" style="left:793px;top:4389px;width:101px;height:105px"></div>
<div class="i" style="left:815px;top:4402px"><b class="c o">无症状</b></div>
<div class="i" style="left:870px;top:4402px"><b class="c p">确诊</b></div>
<div class="lb" style="left:844px;top:4460px;font-weight:bold">北三环西路<br>11号院</div>
<div class="i" style="left:731px;top:4506px"><b class="c o">无症状</b>花园路17号院<span class="u">3次到访<br>天堂超市酒吧</span></div>
<div class="i" style="left:811px;top:4506px"><b class="c p">无症状</b>文慧园北路<br>6号院</div>
<div class="i" style="left:872px;top:4506px"><b class="c p">无症状</b>砂轮厂<br>宿舍</div>
<div class="i" style="left:731px;top:4608px"><b class="c g">管控<br>人员</b></div>

<div class="a" style="left:51px;top:4670px;color:#333;font-size:15px">统计时间：6月9日0时-6月16日15时</div>
<div class="a" style="left:713px;top:4670px;color:#333;font-size:15px">制图：张力 实习 李俊瑶</div>
<div class="a" style="left:0;width:949px;top:4765px;text-align:center;color:#fff;font-weight:bold;font-size:22px">北京日报微信公众号</div>
</body></html>
